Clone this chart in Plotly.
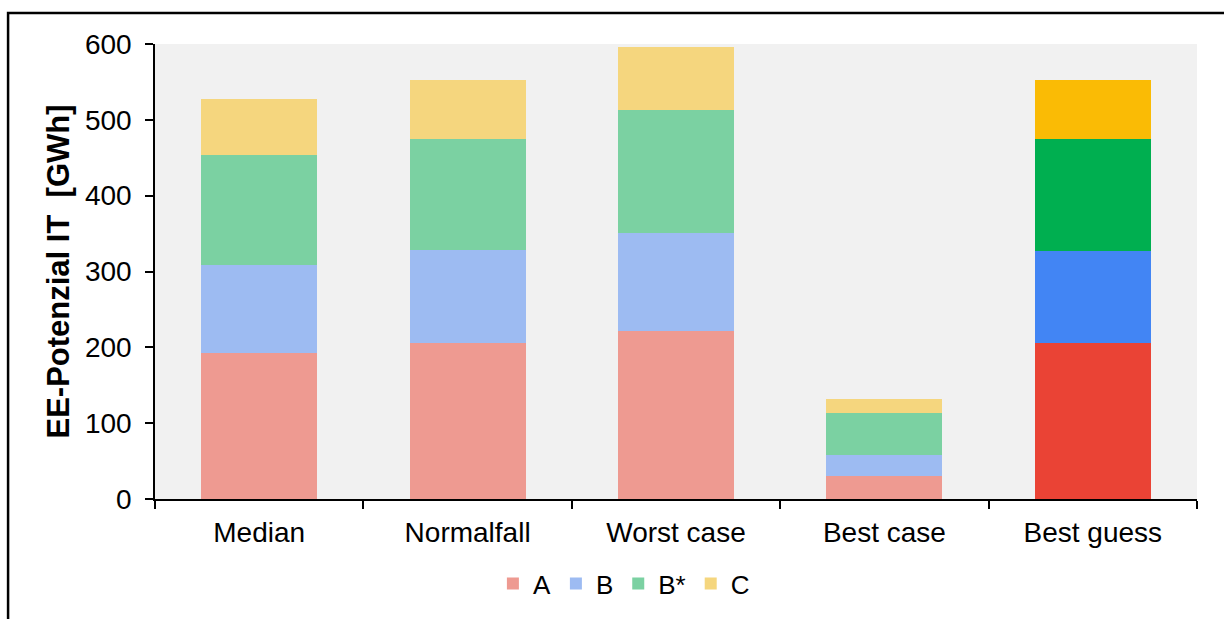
import plotly.graph_objects as go

categories = ["Median", "Normalfall", "Worst case", "Best case", "Best guess"]
series = ["A", "B", "B*", "C"]
A = [192, 206, 221, 30, 206]
B = [116, 122, 130, 28, 121]
Bstar = [146, 147, 162, 55, 148]
C = [74, 78, 83, 19, 78]
values = [A, B, Bstar, C]

light = ["#EE9A91", "#9DBBF2", "#7BD1A2", "#F5D67E"]
strong = ["#EA4335", "#4285F4", "#00AF50", "#FABB05"]

fig = go.Figure()
for name, vals, lc, sc in zip(series, values, light, strong):
    colors = [lc] * (len(categories) - 1) + [sc]
    fig.add_trace(go.Bar(x=categories, y=vals, name=name,
                         marker=dict(color=colors, line=dict(width=0))))

fig.update_layout(
    barmode="stack",
    bargap=0.443,
    width=1224, height=619,
    margin=dict(l=155, r=27, t=44, b=120),
    paper_bgcolor="white",
    plot_bgcolor="#F1F1F1",
    font=dict(family="Liberation Sans, Arial", size=27, color="black"),
    showlegend=True,
    legend=dict(orientation="h", x=0.45, xanchor="center", yref="container", y=0.095,
                yanchor="top", font=dict(size=26), itemwidth=30, traceorder="normal"),
    xaxis=dict(showline=True, linecolor="black", linewidth=1.5, ticks="outside",
               tickcolor="black", ticklen=8, tickwidth=1.5, tickson="boundaries",
               showgrid=False, tickfont=dict(size=28), ticklabelstandoff=8, automargin=False),
    yaxis=dict(range=[0, 600], dtick=100, showline=True, linecolor="black", linewidth=1.5,
               ticks="outside", tickcolor="black", ticklen=8, tickwidth=1.5,
               showgrid=False, zeroline=False, tickfont=dict(size=28), ticklabelstandoff=8,
               automargin=False,
               title=dict(text="<b>EE-Potenzial IT  [GWh]</b>", font=dict(size=31), standoff=6)),
    shapes=[dict(type="rect", xref="paper", yref="paper", x0=-0.141, x1=1.2,
                 y0=-0.5, y1=1.068, line=dict(color="black", width=2.5), fillcolor="rgba(0,0,0,0)")]
)

fig.write_html("out.html")
